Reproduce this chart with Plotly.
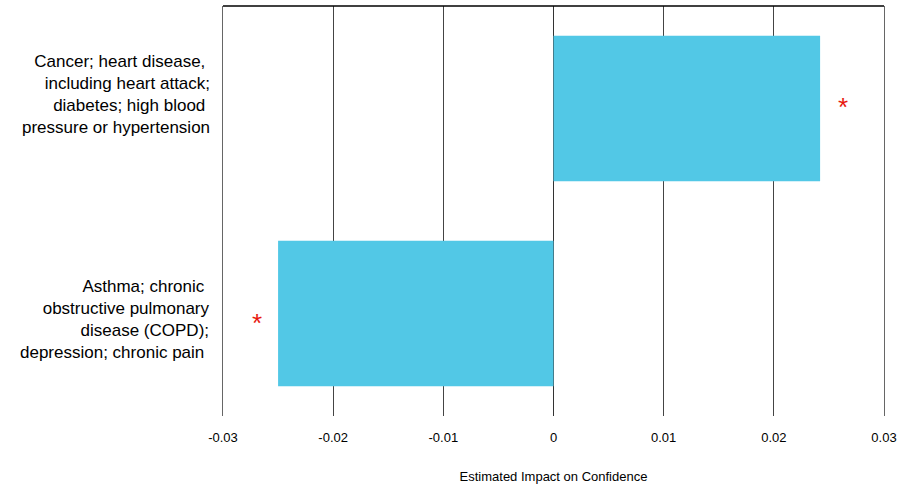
import plotly.graph_objects as go

categories = ["Respiratory/mental", "Cardiometabolic"]
label_texts = [
    "Asthma; chronic&nbsp;<br>obstructive pulmonary<br>disease (COPD);<br>depression; chronic pain&nbsp;",
    "Cancer; heart disease,&nbsp;<br>including heart attack;<br>diabetes; high blood&nbsp;<br>pressure or hypertension",
]
values = [-0.025, 0.0242]
significance = ["*", "*"]
tick_vals = [-0.03, -0.02, -0.01, 0, 0.01, 0.02, 0.03]
tick_text = ["-0.03", "-0.02", "-0.01", "0", "0.01", "0.02", "0.03"]

FONT = "Liberation Sans, Arial, Helvetica"

fig = go.Figure()
fig.add_trace(go.Bar(
    y=categories, x=values, orientation="h",
    marker=dict(color="#52C8E6", line=dict(width=0)),
    width=0.71,
))

label_yshift = {categories[0]: -6, categories[1]: 14}
star_xshift = {categories[0]: -21, categories[1]: 23}
star_yshift = {categories[0]: -9, categories[1]: 2}

for c, t in zip(categories, label_texts):
    fig.add_annotation(
        x=0, xref="paper", y=c, yref="y", text=t, showarrow=False,
        xanchor="right", yanchor="middle", align="right",
        xshift=-11, yshift=label_yshift[c],
        font=dict(size=17, family=FONT, color="black"),
    )

for c, v, s in zip(categories, values, significance):
    fig.add_annotation(
        x=v, y=c, text=s, showarrow=False,
        xanchor="center", yanchor="middle",
        xshift=star_xshift[c], yshift=star_yshift[c],
        font=dict(color="#E8180F", size=26, family=FONT),
    )

fig.add_shape(type="line", xref="paper", yref="paper", x0=0, x1=1, y0=1, y1=1,
              line=dict(color="black", width=1.5))

fig.update_layout(
    width=899, height=484,
    margin=dict(l=223, r=15, t=6, b=68),
    plot_bgcolor="white", paper_bgcolor="white",
    showlegend=False,
    font=dict(family=FONT, color="black"),
    xaxis=dict(
        range=[-0.03, 0.03], tickvals=tick_vals, ticktext=tick_text,
        showgrid=True, gridcolor="#444444", gridwidth=1,
        zeroline=True, zerolinecolor="#333333", zerolinewidth=1,
        ticks="outside", ticklen=9, tickcolor="rgba(0,0,0,0)",
        tickfont=dict(size=13),
        title=dict(text="Estimated Impact on Confidence", font=dict(size=13), standoff=28),
        showline=False, automargin=False,
    ),
    yaxis=dict(
        range=[-0.5, 1.5], showgrid=False, zeroline=False,
        showticklabels=False, automargin=False,
        showline=True, mirror=True, linecolor="#666666", linewidth=1,
    ),
)

fig.write_html("out.html", config={"displayModeBar": False},
               post_script="document.body.style.margin='0';")
